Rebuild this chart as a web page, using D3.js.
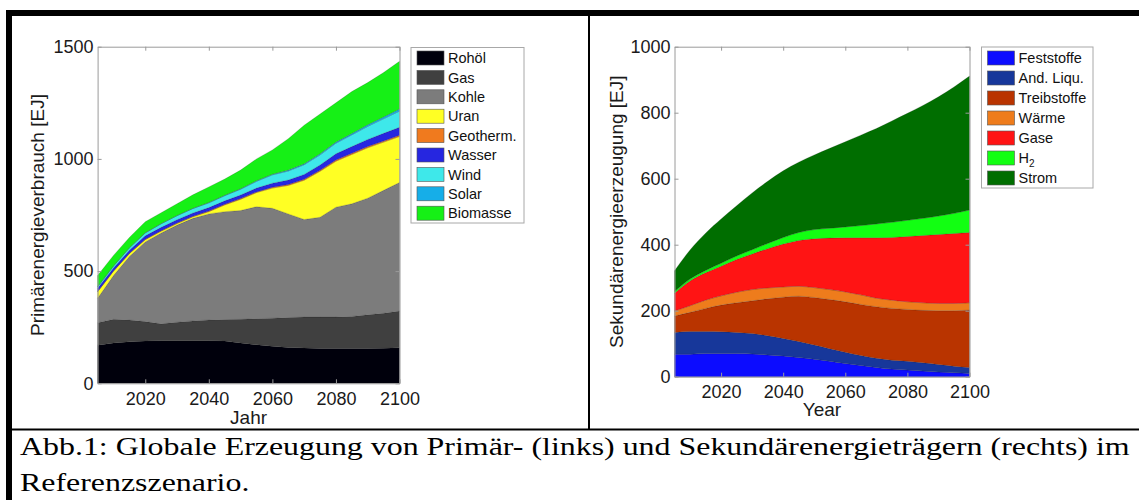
<!DOCTYPE html>
<html>
<head>
<meta charset="utf-8">
<script src="https://cdn.jsdelivr.net/npm/d3@7"></script>
<style>
  body { margin: 0; background: #fff; }
  svg { display: block; }
</style>
</head>
<body>
<svg id="fig" width="1139" height="500"></svg>
<script>
// ---- data (EJ per year) ----
const years = [2005, 2010, 2015, 2020, 2025, 2030, 2035, 2040, 2045, 2050,
               2055, 2060, 2065, 2070, 2075, 2080, 2085, 2090, 2095, 2100];

// primary energy consumption
const primaryKeys  = ["Rohöl", "Gas", "Kohle", "Uran", "Geotherm.", "Wasser", "Wind", "Solar", "Biomasse"];
const rohoel   = [170, 180, 185, 188, 190, 190, 190, 190, 188, 180, 172, 165, 160, 157, 155, 155, 155, 155, 156, 158];
const gas      = [100, 105,  97,  87,  75,  82,  88,  92,  96, 105, 116, 125, 133, 138, 140, 140, 143, 150, 156, 164];
const kohle    = [109, 195, 283, 355, 405, 433, 457, 473, 481, 485, 499, 490, 462, 435, 445, 490, 502, 520, 548, 573];
const uran     = [ 29,  20,  13,  10,   8,   7,   7,  10,  30,  50,  63,  90, 127, 175, 205, 205, 220, 225, 215, 205];
const geotherm = [  1,   1,   1,   2,   2,   2,   2,   3,   3,   3,   3,   4,   4,   4,   4,   5,   5,   5,   5,   5];
const wasser   = [ 15,  13,  14,  15,  15,  15,  15,  15,  15,  16,  17,  18,  20,  22,  24,  28,  30,  32,  34,  36];
const wind     = [  7,   9,  11,  13,  16,  18,  20,  21,  23,  26,  30,  37,  40,  43,  45,  47,  52,  58,  65,  72];
const solar    = [  0,   0,   0,   1,   1,   1,   1,   2,   2,   2,   3,   3,   4,   4,   5,   5,   6,   7,   8,   9];
const biomasse = [ 49,  47,  46,  49,  48,  52,  60,  69,  72,  83,  97, 108, 140, 172, 177, 175, 187, 188, 198, 213];
const primaryColors = ["#00000c", "#404040", "#7c7c7c", "#ffff24", "#f07a1e", "#2626e0", "#3ee8ea", "#16aee8", "#16f016"];

// secondary energy production
const secondaryKeys = ["Feststoffe", "And. Liqu.", "Treibstoffe", "Wärme", "Gase", "H2", "Strom"];
const feststoffe  = [ 68,  68,  70,  70,  70,  69,  66,  63,  58,  53,  47,  40,  34,  28,  23,  20,  17,  14,  12,  10];
const andLiqu     = [ 66,  69,  67,  66,  64,  62,  58,  53,  49,  43,  38,  34,  30,  28,  27,  27,  25,  23,  20,  18];
const treibstoffe = [ 50,  58,  70,  81,  90,  99, 112, 125, 137, 144, 149, 153, 155, 156, 157, 157, 159, 163, 168, 174];
const waerme      = [ 15,  20,  25,  28,  32,  34,  33,  31,  30,  30,  30,  30,  29,  26,  25,  23,  23,  22,  22,  22];
const gase        = [ 54,  75,  83,  90,  99, 108, 119, 130, 139, 148, 156, 164, 173, 183, 190, 198, 204, 209, 212, 213];
const h2          = [  5,   6,   7,   9,  11,  13,  16,  20,  24,  28,  30,  33,  37,  42,  46,  49,  52,  56,  61,  68];
const strom       = [ 63,  88, 113, 134, 152, 172, 188, 202, 213, 226, 242, 258, 274, 289, 307, 324, 342, 361, 383, 406];
const secondaryColors = ["#0c0cff", "#17379a", "#b93400", "#ee7c1c", "#ff1414", "#12ff12", "#006e00"];

const xTicks = [2020, 2040, 2060, 2080, 2100];
const primaryYTicks = [0, 500, 1000, 1500];
const secondaryYTicks = [0, 200, 400, 600, 800, 1000];

const caption1 = "Abb.1: Globale Erzeugung von Primär- (links) und Sekundärenergieträgern (rechts) im";
const caption2 = "Referenzszenario.";

// ---- build tables ----
const primarySeries = [rohoel, gas, kohle, uran, geotherm, wasser, wind, solar, biomasse];
const secondarySeries = [feststoffe, andLiqu, treibstoffe, waerme, gase, h2, strom];
function toRows(keys, series) {
  return years.map((yr, i) => {
    const row = { year: yr };
    keys.forEach((k, j) => { row[k] = series[j][i]; });
    return row;
  });
}
const primaryRows = toRows(primaryKeys, primarySeries);
const secondaryRows = toRows(secondaryKeys, secondarySeries);

const svg = d3.select("#fig");
svg.append("rect").attr("width", 1139).attr("height", 500).attr("fill", "#fff");

const SANS = "'Liberation Sans', Arial, Helvetica, sans-serif";
const AXIS_GRAY = "#9a9a9a";
const intFmt = d3.format("d");

function panel(o) {
  const x = d3.scaleLinear().domain([2005, 2100]).range([o.x0, o.x1]);
  const y = d3.scaleLinear().domain([0, o.ymax]).range([o.y1, o.y0]);
  const g = svg.append("g");

  const stacked = d3.stack().keys(o.keys)(o.rows);
  const area = d3.area()
    .x(d => x(d.data.year))
    .y0(d => y(d[0]))
    .y1(d => y(d[1]))
    .curve(o.curve);

  g.selectAll("path.layer").data(stacked).join("path")
    .attr("class", "layer")
    .attr("fill", (d, i) => o.colors[i])
    .attr("stroke", "#1a1a1a")
    .attr("stroke-width", 0.4)
    .attr("stroke-opacity", 0.45)
    .attr("d", area);

  const style = sel => {
    sel.selectAll(".domain").attr("stroke", AXIS_GRAY).attr("stroke-width", 1);
    sel.selectAll(".tick line").attr("stroke", AXIS_GRAY);
    sel.selectAll("text").attr("fill", "#1a1a1a").style("font-family", SANS).style("font-size", "18px");
  };

  g.append("g").attr("transform", `translate(0,${o.y1})`)
    .call(d3.axisBottom(x).tickValues(xTicks).tickSize(-4).tickSizeOuter(0).tickPadding(9).tickFormat(intFmt))
    .call(style);
  g.append("g").attr("transform", `translate(0,${o.y0})`)
    .call(d3.axisTop(x).tickValues(xTicks).tickSize(-4).tickSizeOuter(0).tickFormat(""))
    .call(style);
  g.append("g").attr("transform", `translate(${o.x0},0)`)
    .call(d3.axisLeft(y).tickValues(o.yTicks).tickSize(-4).tickSizeOuter(0).tickPadding(4).tickFormat(intFmt))
    .call(style);
  g.append("g").attr("transform", `translate(${o.x1},0)`)
    .call(d3.axisRight(y).tickValues(o.yTicks).tickSize(-4).tickSizeOuter(0).tickFormat(""))
    .call(style);

  // axis titles
  g.append("text")
    .attr("x", (o.x0 + o.x1) / 2).attr("y", o.xLabelY)
    .attr("text-anchor", "middle")
    .style("font-family", SANS).style("font-size", "19px").attr("fill", "#1a1a1a")
    .text(o.xLabel);
  g.append("text")
    .attr("transform", `translate(${o.yLabelX},${(o.y0 + o.y1) / 2}) rotate(-90)`)
    .attr("text-anchor", "middle").attr("dy", "0.35em")
    .style("font-family", SANS).style("font-size", "19px").attr("fill", "#1a1a1a")
    .text(o.yLabel);

  // legend
  const L = o.legend;
  const lg = g.append("g");
  lg.append("rect")
    .attr("x", L.x).attr("y", L.y).attr("width", L.w).attr("height", L.h)
    .attr("fill", "#fff").attr("stroke", "#a8a8a8").attr("stroke-width", 1);
  o.keys.forEach((k, i) => {
    const cy = L.first + i * L.step;
    lg.append("rect")
      .attr("x", L.x + 6).attr("y", cy - 7).attr("width", 27).attr("height", 14)
      .attr("fill", o.colors[i]).attr("stroke", "#555").attr("stroke-width", 0.6);
    const t = lg.append("text")
      .attr("x", L.x + 37).attr("y", cy).attr("dy", "0.36em")
      .style("font-family", SANS).style("font-size", "14.5px").attr("fill", "#111");
    if (k === "H2") {
      t.append("tspan").text("H");
      t.append("tspan").attr("dy", "0.35em").style("font-size", "10px").text("2");
    } else {
      t.text(k);
    }
  });
}

panel({
  x0: 97.6, x1: 399.5, y0: 46.7, y1: 383.3, ymax: 1500,
  keys: primaryKeys, rows: primaryRows, colors: primaryColors,
  yTicks: primaryYTicks, curve: d3.curveLinear,
  xLabel: "Jahr", xLabelY: 424,
  yLabel: "Primärenergieverbrauch [EJ]", yLabelX: 37,
  legend: { x: 411, y: 47.5, w: 113, h: 175.5, first: 58, step: 19.4 }
});

panel({
  x0: 674.5, x1: 969.5, y0: 46.7, y1: 376.7, ymax: 1000,
  keys: secondaryKeys, rows: secondaryRows, colors: secondaryColors,
  yTicks: secondaryYTicks, curve: d3.curveMonotoneX,
  xLabel: "Year", xLabelY: 416,
  yLabel: "Sekundärenergieerzeugung [EJ]", yLabelX: 616,
  legend: { x: 981.5, y: 47, w: 111.5, h: 141, first: 58, step: 20 }
});

// ---- frame lines ----
svg.append("rect").attr("x", 6).attr("y", 10).attr("width", 1133).attr("height", 6).attr("fill", "#000");
svg.append("rect").attr("x", 6).attr("y", 10).attr("width", 6).attr("height", 490).attr("fill", "#000");
svg.append("rect").attr("x", 588).attr("y", 16).attr("width", 2).attr("height", 413).attr("fill", "#000");
svg.append("rect").attr("x", 12).attr("y", 428.5).attr("width", 1127).attr("height", 2).attr("fill", "#000");

// ---- caption: wide serif face, first line filling the frame width ----
const SERIF = "'Liberation Serif', 'Times New Roman', Times, serif";
const capLeft = 20, capRight = 1130;
const c1 = svg.append("text")
  .style("font-family", SERIF).style("font-size", "24.5px").attr("fill", "#000")
  .text(caption1);
const sx = (capRight - capLeft) / c1.node().getComputedTextLength();
c1.attr("transform", `translate(${capLeft},455) scale(${sx},1)`);
svg.append("text")
  .attr("transform", `translate(${capLeft},491) scale(${sx},1)`)
  .style("font-family", SERIF).style("font-size", "24.5px").attr("fill", "#000")
  .text(caption2);
</script>
</body>
</html>
